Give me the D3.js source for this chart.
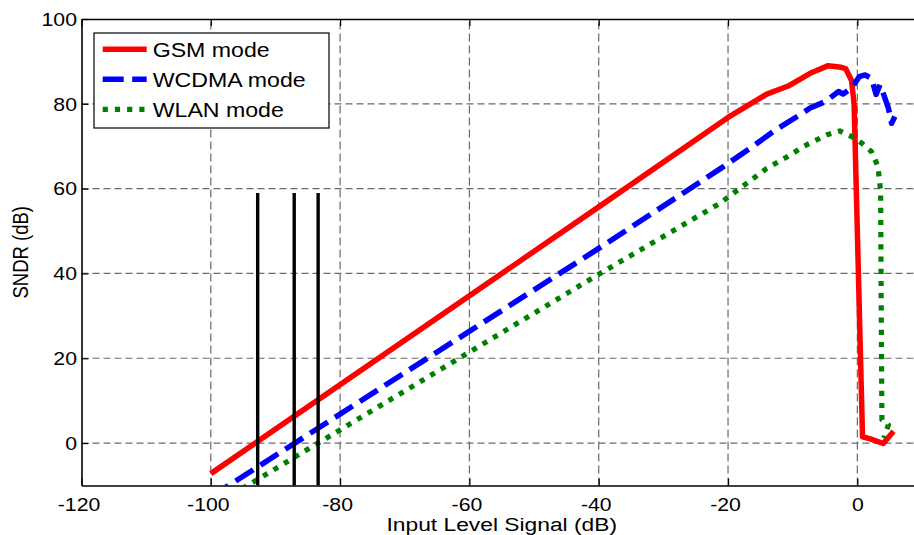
<!DOCTYPE html>
<html>
<head>
<meta charset="utf-8">
<script src="https://cdn.jsdelivr.net/npm/d3@7"></script>
<style>
  body { margin: 0; background: #fff; }
  svg { display: block; font-family: "Liberation Sans", Arial, sans-serif; }
</style>
</head>
<body>
<svg id="chart"></svg>
<script>
// chart size (right border of the axes sits just outside the picture)
const width = 914;
const height = 535;
const margin = { top: 19, bottom: 49.5, left: 81.5, rightEdge: 922 };

// ticks
const xTicks = [-120, -100, -80, -60, -40, -20, 0];
const yTicks = [0, 20, 40, 60, 80, 100];

// GSM mode (red, solid)
const gsmX = [-100, -40, -20, -14, -10.7, -7.3, -4.5, -2.5, -1.8, -0.9, -0.5, -0.3, 0.8, 2, 4, 5.6];
const gsmY = [-7.2, 55.7, 76.8, 82.3, 84.2, 87.2, 89, 88.6, 88.3, 85.5, 80, 68, 1.5, 1, -0.1, 2.8];

// WCDMA mode (blue, dashed)
const wcdmaX = [-100, -40, -21.3, -16.6, -12.5, -8.9, -7.3, -5, -2.9, -2.2, -0.9, 0.3, 1.2, 2.2, 2.9, 3.5, 4, 4.8, 5.3, 5.8];
const wcdmaY = [-12.7, 45.9, 64.6, 69.5, 74, 77.4, 79, 80.5, 82.9, 82.3, 83.7, 86.4, 86.8, 86, 82.2, 84.5, 82.5, 79, 75.4, 77];

// WLAN mode (green, dotted)
const wlanX = [-100, -83.4, -40, -21.3, -14, -10.4, -8.4, -4.7, -2.7, -0.9, 0.7, 2.2, 3.2, 3.6, 3.7, 3.8, 4.8, 4.1];
const wlanY = [-15.2, 0, 39.8, 56.5, 64.8, 67.9, 69.9, 72.7, 73.6, 72.3, 70.7, 68.7, 65.2, 59.3, 30, 5.5, 4.3, 1.2];

// black vertical markers
const markerX = [-92.75, -87.1, -83.4];
const markerTop = 59;

const series = [
    { name: "GSM mode", xs: gsmX, ys: gsmY, color: "#ff0000", width: 5.5, dash: null },
    { name: "WCDMA mode", xs: wcdmaX, ys: wcdmaY, color: "#0000ff", width: 5.5, dash: "21 8.5" },
    { name: "WLAN mode", xs: wlanX, ys: wlanY, color: "#008000", width: 5.2, dash: "5.2 7" }
];

const svg = d3.select("#chart")
    .attr("width", width)
    .attr("height", height);

const x = d3.scaleLinear().domain([-120, 10]).range([margin.left, margin.rightEdge]);
const y = d3.scaleLinear().domain([-10, 100]).range([height - margin.bottom, margin.top]);

// text in the original picture is stretched horizontally
const sx = 1.2;

// clip for the curves
svg.append("clipPath").attr("id", "plot")
    .append("rect")
    .attr("x", x(-120)).attr("y", y(100))
    .attr("width", x(10) - x(-120)).attr("height", y(-10) - y(100));

// grid
const grid = svg.append("g")
    .attr("stroke", "#6a6a6a")
    .attr("stroke-width", 1.2);

grid.selectAll("line.vx")
    .data(xTicks.filter(d => d > -120))
    .join("line")
    .attr("class", "vx")
    .attr("x1", d => x(d)).attr("x2", d => x(d))
    .attr("y1", y(-10)).attr("y2", y(100))
    .attr("stroke-dasharray", "8 4");

grid.selectAll("line.hy")
    .data(yTicks.filter(d => d < 100))
    .join("line")
    .attr("class", "hy")
    .attr("y1", d => y(d)).attr("y2", d => y(d))
    .attr("x1", x(-120)).attr("x2", x(10))
    .attr("stroke-dasharray", "7 4");

// curves
const line = d3.line().x(d => x(d[0])).y(d => y(d[1]));

svg.append("g")
    .attr("clip-path", "url(#plot)")
    .selectAll("path")
    .data(series)
    .join("path")
    .attr("d", s => line(s.xs.map((v, i) => [v, s.ys[i]])))
    .attr("fill", "none")
    .attr("stroke", s => s.color)
    .attr("stroke-width", s => s.width)
    .attr("stroke-linejoin", "round")
    .attr("stroke-dasharray", s => s.dash);

// markers
svg.append("g")
    .selectAll("line")
    .data(markerX)
    .join("line")
    .attr("x1", d => x(d)).attr("x2", d => x(d))
    .attr("y1", y(-10)).attr("y2", y(markerTop))
    .attr("stroke", "#000")
    .attr("stroke-width", 3.4);

// axes
const fmt = d => String(d);

const gx = svg.append("g")
    .attr("transform", `translate(0,${y(-10)})`)
    .call(d3.axisBottom(x).tickValues(xTicks).tickFormat(fmt).tickSizeInner(-7).tickSizeOuter(0));

gx.selectAll("text")
    .attr("y", 0).attr("dy", null)
    .attr("transform", d => `translate(${d < 0 ? -3 : 0},25.5) scale(${sx},1)`);

svg.append("g")
    .attr("transform", `translate(0,${y(100)})`)
    .call(d3.axisTop(x).tickValues(xTicks).tickFormat("").tickSizeInner(-7).tickSizeOuter(0));

const gy = svg.append("g")
    .attr("transform", `translate(${x(-120)},0)`)
    .call(d3.axisLeft(y).tickValues(yTicks).tickFormat(fmt).tickSizeInner(-7).tickSizeOuter(0));

gy.selectAll("text")
    .attr("x", 0).attr("dy", null)
    .attr("transform", `translate(-4.5,6.3) scale(${sx},1)`);

svg.append("g")
    .attr("transform", `translate(${x(10)},0)`)
    .call(d3.axisRight(y).tickValues(yTicks).tickFormat("").tickSizeInner(-7).tickSizeOuter(0));

svg.selectAll(".domain").attr("stroke", "#000").attr("stroke-width", 1.6);
svg.selectAll(".tick line").attr("stroke", "#000").attr("stroke-width", 1.2);
svg.selectAll(".tick text").attr("font-size", 17.7).attr("fill", "#000")
    .attr("font-family", "Liberation Sans, Arial, sans-serif");

// axis titles
svg.append("text")
    .attr("transform", `translate(${(x(-120) + x(10)) / 2},531) scale(${sx},1)`)
    .attr("text-anchor", "middle")
    .attr("font-size", 19)
    .text("Input Level Signal (dB)");

svg.append("text")
    .attr("transform", `translate(27.5,${(y(-10) + y(100)) / 2}) scale(${sx},1) rotate(-90)`)
    .attr("text-anchor", "middle")
    .attr("font-size", 18.5)
    .text("SNDR (dB)");

// legend
const legend = svg.append("g");

legend.append("rect")
    .attr("x", 94).attr("y", 33)
    .attr("width", 235).attr("height", 95)
    .attr("fill", "#fff")
    .attr("stroke", "#000")
    .attr("stroke-width", 1.2);

const rows = legend.selectAll("g.row")
    .data(series)
    .join("g")
    .attr("class", "row")
    .attr("transform", (d, i) => `translate(0,${49.3 + i * 30})`);

rows.append("line")
    .attr("x1", 102.7).attr("x2", 146.7)
    .attr("stroke", d => d.color)
    .attr("stroke-width", d => d.width)
    .attr("stroke-dasharray", d => d.dash);

rows.append("text")
    .attr("transform", `translate(152.7,7.5) scale(1.14,1)`)
    .attr("font-size", 20.3)
    .text(d => d.name);
</script>
</body>
</html>
